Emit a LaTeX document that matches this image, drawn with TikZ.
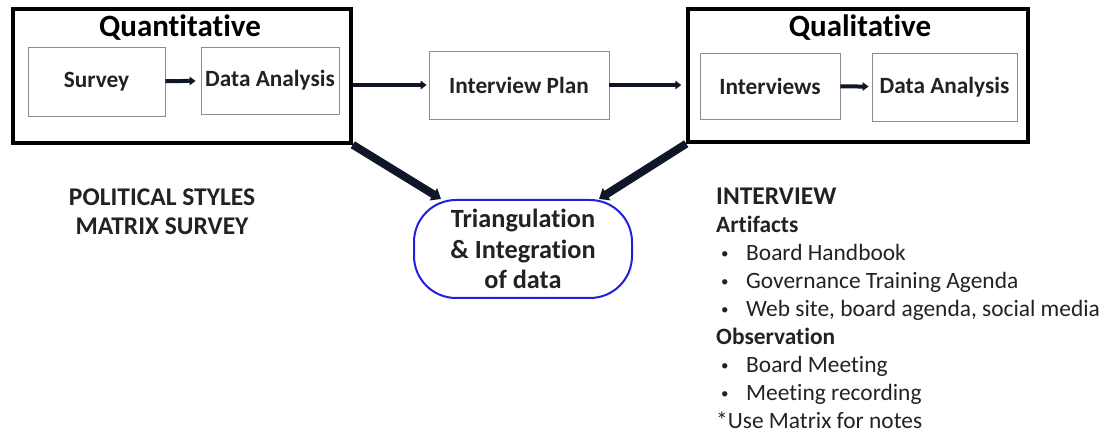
\documentclass[tikz,border=0pt]{standalone}
\usepackage{fontspec}
\setmainfont{Carlito}[Ligatures=NoCommon]
\usetikzlibrary{positioning,arrows.meta}
\definecolor{arrowcol}{RGB}{14,22,40}
\definecolor{triborder}{RGB}{32,32,224}
\definecolor{innerline}{RGB}{140,140,140}
\definecolor{textcol}{RGB}{34,34,34}
\newcommand{\listbullet}{\makebox[30pt][l]{\hspace{5pt}\raisebox{2pt}{\fontsize{15}{15}\selectfont\textbullet}}}

\begin{document}
\begin{tikzpicture}[x=1pt, y=-1pt,
    outerbox/.style={draw=black, line width=3.5pt, inner sep=0pt},
    stagebox/.style={draw=innerline, line width=0.9pt, inner sep=0pt, text=textcol, font=\fontsize{23.3}{27}\selectfont\bfseries},
    boxtitle/.style={inner sep=0pt, font=\fontsize{31}{36}\selectfont\bfseries},
    flow/.style={draw=arrowcol, line width=4pt, -{Triangle[length=6pt, width=8.5pt]}},
    merge/.style={draw=arrowcol, line width=8pt, -{Triangle[length=9pt, width=14pt]}},
    note/.style={inner sep=0pt, text=textcol, align=left, font=\fontsize{23.4}{28}\selectfont}]
    \useasboundingbox (0,0) rectangle (1107,435);

    % Quantitative part
    \node[outerbox, minimum width=338pt, minimum height=134pt] (quant) at (182,76) {};
    \node[boxtitle] (quanttitle) at (180,28) {Quantitative};
    \node[stagebox, minimum width=137pt, minimum height=69pt] (survey) at (96.5,81.5) {Survey};
    \node[stagebox, minimum width=138pt, minimum height=67pt] (quantda) at (270,80.5) {Data Analysis};

    % Middle step
    \node[stagebox, minimum width=180pt, minimum height=68pt] (plan) at (519,85) {Interview Plan};

    % Qualitative part
    \node[outerbox, minimum width=340pt, minimum height=133pt] (qual) at (858,75.5) {};
    \node[boxtitle] (qualtitle) at (860,28) {Qualitative};
    \node[stagebox, minimum width=140pt, minimum height=66pt] (interviews) at (770,86) {Interviews};
    \node[stagebox, minimum width=145pt, minimum height=68pt] (qualda) at (944.5,87) {Data Analysis};

    % Triangulation
    \node[draw=triborder, line width=2pt, rounded corners=42pt, minimum width=218pt, minimum height=98pt, align=center, inner sep=0pt, text=textcol, font=\fontsize{26.3}{30.5}\selectfont\bfseries] (tri) at (523,249) {Triangulation\\\& Integration\\of data};

    % Side notes
    \node[inner sep=0pt, align=center, text=textcol, font=\fontsize{25.5}{29}\selectfont\bfseries] (polstyles) at (162,212) {POLITICAL STYLES\\MATRIX SURVEY};
    \node[note, anchor=north west] (interviewnote) at (716,188) {%
        {\fontsize{25.5}{28}\selectfont\textbf{INTERVIEW}}\\
        \textbf{Artifacts}\\
        \listbullet Board Handbook\\
        \listbullet Governance Training Agenda\\
        \listbullet Web site, board agenda, social media\\
        \textbf{Observation}\\
        \listbullet Board Meeting\\
        \listbullet Meeting recording\\
        *Use Matrix for notes};

    % Draw the flow arrows
    \draw[flow, shorten >=5pt] (survey) -- (quantda);
    \draw[flow, shorten >=2pt] (quant.east |- plan.west) -- (plan.west);
    \draw[flow, shorten >=5pt] (plan.east) -- (qual.west |- plan.east);
    \draw[flow, shorten >=3pt] (interviews) -- (qualda);

    % Draw the arrows into the triangulation
    \draw[merge] (quant.south east) -- ([xshift=28pt]tri.north west);
    \draw[merge] (qual.south west) -- ([xshift=-34pt]tri.north east);
\end{tikzpicture}
\end{document}
